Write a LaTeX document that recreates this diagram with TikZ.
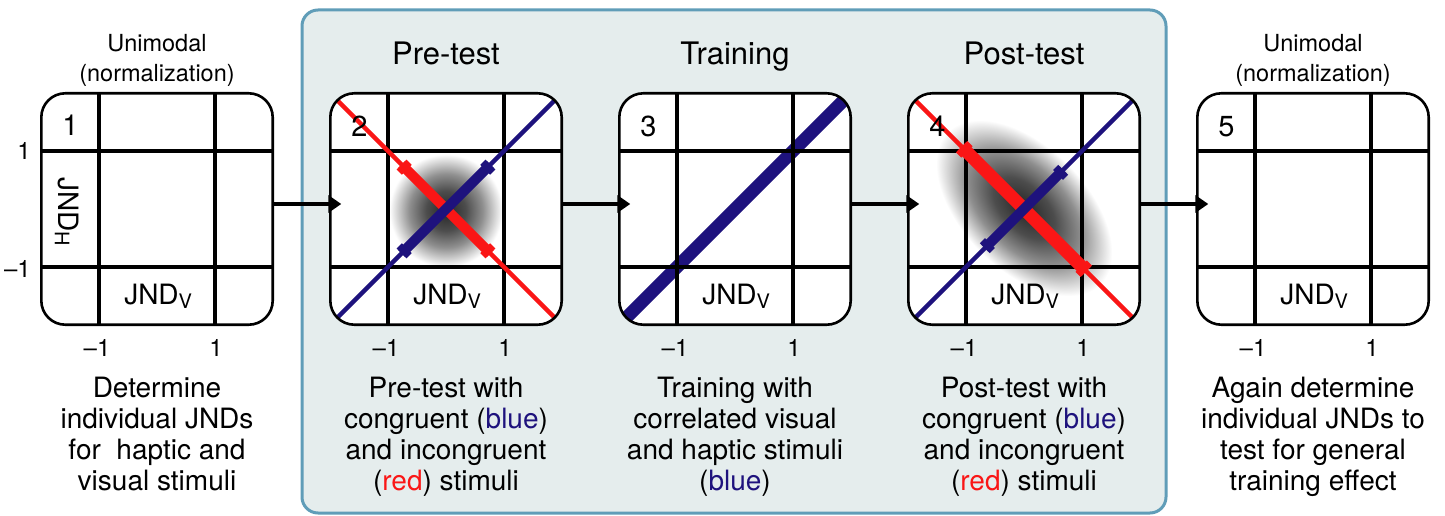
\documentclass[tikz,border=0pt]{standalone}
\usepackage{fontspec}
\setmainfont{TeX Gyre Heros}
\usetikzlibrary{arrows.meta}
\definecolor{jblue}{RGB}{30,18,125}
\definecolor{jred}{RGB}{250,22,22}
\definecolor{bgfill}{RGB}{229,237,237}
\definecolor{bgedge}{RGB}{96,157,184}
\pgfdeclareradialshading{blob}{\pgfpoint{0bp}{0bp}}{color(0bp)=(black!85); color(3.5bp)=(black!70); color(6.5bp)=(black!44); color(8.8bp)=(black!15); color(10bp)=(white); color(50bp)=(white)}
\newcommand\jndsub[1]{JND\raisebox{-4pt}{\fontsize{20}{20}\selectfont #1}}
\newcommand\pgridlines{\draw[gridline] (-1,-2.1) -- (-1,2.1) (1,-2.1) -- (1,2.1) (-2.1,-1) -- (2.1,-1) (-2.1,1) -- (2.1,1);}
\newcommand\pclip{\clip[rounded corners=24pt] (-2,-2) rectangle (2,2);}
\tikzset{
  pfill/.style={minimum size=231pt, inner sep=0pt, fill=white, rounded corners=24pt},
  pline/.style={draw=black, line width=2.6pt, rounded corners=24pt},
  gridline/.style={draw=black, line width=4pt},
  thinred/.style={draw=jred, line width=4.5pt},
  thinblue/.style={draw=jblue, line width=4.5pt},
  arr/.style={draw=black, line width=3.5pt, -{Triangle[length=13pt,width=17pt]}},
  ttl/.style={font=\fontsize{31}{34}\selectfont, inner sep=0pt, anchor=base},
  uni/.style={font=\fontsize{23.5}{30}\selectfont, align=center, inner sep=0pt, anchor=base},
  desc/.style={font=\fontsize{28}{31}\selectfont, align=center, inner sep=0pt, anchor=base},
  tick/.style={font=\fontsize{24}{24}\selectfont, inner sep=0pt},
  num/.style={font=\fontsize{29}{29}\selectfont, inner sep=0pt},
  jnd/.style={font=\fontsize{28}{28}\selectfont, inner sep=0pt},
  bgbox/.style={draw=bgedge, fill=bgfill, line width=3pt, rounded corners=16pt, inner sep=0pt}
}
\begin{document}
\begin{tikzpicture}[x=1pt,y=-1pt]
\useasboundingbox (0,0) rectangle (1445,516);
% background stage
\node[bgbox, minimum width=864pt, minimum height=503pt] (stage) at (734,261.5) {};
% panel fills
\foreach \cx [count=\i] in {157,446,735,1024,1313} {
  \node[pfill] (p\i) at (\cx,209) {};
}
% blob in panel 4 (elongated along the incongruent diagonal)
\begin{scope}
  \clip[rounded corners=24pt] (p4.south west) rectangle (p4.north east);
  \begin{scope}[transform canvas={shift={(1024pt,-208pt)}, rotate=-45}]
    \fill[shading=blob] (-270pt,-155pt) rectangle (270pt,155pt);
  \end{scope}
\end{scope}
% panel 1
\begin{scope}[xshift=157pt, yshift=-209pt, x=57.7pt, y=57.7pt]
  \begin{scope}\pclip \pgridlines \end{scope}
  \node[num] (n1) at (-1.5,1.45) {1};
  \node[jnd] (jv1) at (0.02,-1.52) {\jndsub{V}};
  \node[jnd, rotate=-90] (jh1) at (-1.56,-0.05) {\jndsub{H}};
\end{scope}
% panel 2
\begin{scope}[xshift=446pt, yshift=-209pt, x=57.7pt, y=57.7pt]
  \begin{scope}\pclip
    \fill[shading=blob] (-2.45,-2.48) rectangle (2.45,2.42);
    \pgridlines
    \draw[thinred] (-2,2) -- (2,-2);
    \draw[thinblue] (-2,-2) -- (2,2);
    \draw[jred, line width=10pt] (-0.77,0.77) -- (0.77,-0.77);
    \draw[jred, line width=14pt] (-0.77,0.77) -- (-0.68,0.68) (0.77,-0.77) -- (0.68,-0.68);
    \draw[jblue, line width=10pt] (-0.77,-0.77) -- (0.77,0.77);
    \draw[jblue, line width=14pt] (-0.77,-0.77) -- (-0.68,-0.68) (0.77,0.77) -- (0.68,0.68);
  \end{scope}
  \node[num] (n2) at (-1.5,1.43) {2};
  \node[jnd] (jv2) at (0.02,-1.52) {\jndsub{V}};
\end{scope}
% panel 3
\begin{scope}[xshift=735pt, yshift=-209pt, x=57.7pt, y=57.7pt]
  \begin{scope}\pclip
    \draw[jblue, line width=13pt] (-2,-2) -- (2,2);
    \pgridlines
  \end{scope}
  \node[num] (n3) at (-1.5,1.43) {3};
  \node[jnd] (jv3) at (0.02,-1.52) {\jndsub{V}};
\end{scope}
% panel 4
\begin{scope}[xshift=1024pt, yshift=-209pt, x=57.7pt, y=57.7pt]
  \begin{scope}\pclip
    \pgridlines
    \draw[thinred] (-2,2) -- (2,-2);
    \draw[thinblue] (-2,-2) -- (2,2);
    \draw[jred, line width=13pt] (-1.08,1.08) -- (1.08,-1.08);
    \draw[jred, line width=16pt] (-1.08,1.08) -- (-0.99,0.99) (1.08,-1.08) -- (0.99,-0.99);
    \draw[jblue, line width=10pt] (-0.68,-0.68) -- (0.68,0.68);
    \draw[jblue, line width=14pt] (-0.68,-0.68) -- (-0.59,-0.59) (0.68,0.68) -- (0.59,0.59);
  \end{scope}
  \node[num] (n4) at (-1.5,1.43) {4};
  \node[jnd] (jv4) at (0.02,-1.52) {\jndsub{V}};
\end{scope}
% panel 5
\begin{scope}[xshift=1313pt, yshift=-209pt, x=57.7pt, y=57.7pt]
  \begin{scope}\pclip \pgridlines \end{scope}
  \node[num] (n5) at (-1.5,1.43) {5};
  \node[jnd] (jv5) at (0.02,-1.52) {\jndsub{V}};
\end{scope}
% outlines
\foreach \i in {1,...,5} {
  \draw[pline] (p\i.south west) rectangle (p\i.north east);
}
% ticks
\foreach \cx [count=\i] in {157,446,735,1024,1313} {
  \node[tick] (tm\i) at (\cx-60,348) {–1};
  \node[tick] (tp\i) at (\cx+59,348) {1};
}
\node[tick, anchor=east] (ly1) at (31,151) {1};
\node[tick, anchor=east] (lym) at (31,269) {–1};
% arrows
\draw[arr] ([yshift=5pt]p1.east) -- ([xshift=11pt,yshift=5pt]p2.west);
\draw[arr] ([yshift=5pt]p2.east) -- ([xshift=11pt,yshift=5pt]p3.west);
\draw[arr] ([yshift=5pt]p3.east) -- ([xshift=11pt,yshift=5pt]p4.west);
\draw[arr] ([yshift=5pt]p4.east) -- ([xshift=11pt,yshift=5pt]p5.west);
% titles (base anchor = baseline of last line)
\node[uni] (u1) at (157,82) {Unimodal\\(normalization)};
\node[ttl] (t2) at (446,65) {Pre-test};
\node[ttl] (t3) at (735,65) {Training};
\node[ttl] (t4) at (1024,65) {Post-test};
\node[uni] (u5) at (1313,82) {Unimodal\\(normalization)};
% descriptions
\node[desc] (d1) at (157,490) {Determine\\individual JNDs\\for\ \ haptic and\\visual stimuli};
\node[desc] (d2) at (446,490) {Pre-test with\\congruent (\textcolor{jblue}{blue})\\and incongruent\\(\textcolor{jred}{red}) stimuli};
\node[desc] (d3) at (735,490) {Training with\\correlated visual\\and haptic stimuli\\(\textcolor{jblue}{blue})};
\node[desc] (d4) at (1024,490) {Post-test with\\congruent (\textcolor{jblue}{blue})\\and incongruent\\(\textcolor{jred}{red}) stimuli};
\node[desc] (d5) at (1313,490) {Again determine\\individual JNDs to\\test for general\\training effect};
\end{tikzpicture}
\end{document}
